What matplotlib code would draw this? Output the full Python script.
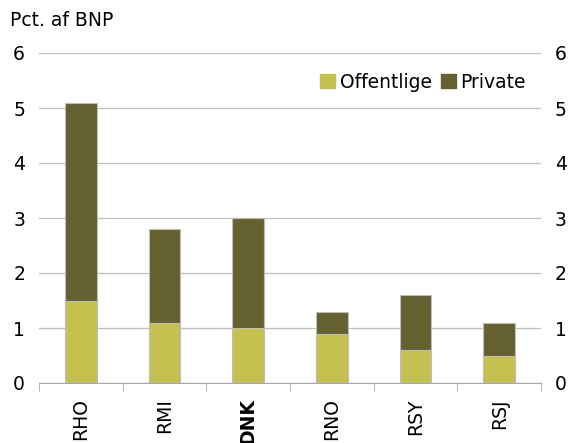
import matplotlib
matplotlib.use("Agg")
import matplotlib.pyplot as plt
from matplotlib.patches import Patch

categories = ["RHO", "RMI", "DNK", "RNO", "RSY", "RSJ"]
offentlige = [1.5, 1.1, 1.0, 0.9, 0.6, 0.5]
private = [3.6, 1.7, 2.0, 0.4, 1.0, 0.6]
yticks = [0, 1, 2, 3, 4, 5, 6]

c_off = "#C5C150"
c_priv = "#656032"
FS = 13.5

W, H = 571, 443
fig = plt.figure(figsize=(W / 100, H / 100), dpi=100)
ax = fig.add_axes([39 / W, 1 - 383 / H, (541 - 39) / W, (383 - 53) / H])
x = list(range(len(categories)))
ax.bar(x, offentlige, width=0.38, color=c_off, edgecolor="#BDBDBD", linewidth=0.8, zorder=3, label="Offentlige")
ax.bar(x, private, width=0.38, bottom=offentlige, color=c_priv, edgecolor="#BDBDBD", linewidth=0.8, zorder=3, label="Private")
ax.set_xlim(-0.5, len(categories) - 0.5)
ax.set_ylim(0, 6)
ax.set_yticks(yticks)
ax.grid(axis="y", color="#BFBFBF", linewidth=0.9, zorder=0)
for s in ["top", "right", "left"]:
    ax.spines[s].set_visible(False)
ax.spines["bottom"].set_color("#A6A6A6")
ax.tick_params(axis="y", length=0, labelsize=FS, pad=10, labelright=True, right=False)
ax.set_xticks([i + 0.5 for i in x[:-1]] + [-0.5, len(categories) - 0.5], minor=True)
ax.set_xticks(x)
ax.set_xticklabels(categories, rotation=90, fontsize=FS)
ax.tick_params(axis="x", which="major", length=0, pad=11)
ax.tick_params(axis="x", which="minor", length=6, color="#A6A6A6")
for lbl in ax.get_xticklabels():
    if lbl.get_text() == "DNK":
        lbl.set_fontweight("bold")
fig.text(10 / W, 1 - 20 / H, "Pct. af BNP", fontsize=FS, va="center", ha="left")
handles = [Patch(color=c_off, label="Offentlige"), Patch(color=c_priv, label="Private")]
fig.legend(handles=handles, loc="center left", bbox_to_anchor=(320 / W, 1 - 82 / H), ncol=2, frameon=False,
           fontsize=FS, handlelength=0.8, handleheight=0.8, handletextpad=0.27, columnspacing=0.45,
           borderpad=0, borderaxespad=0)
fig.savefig("out.png", dpi=100)
